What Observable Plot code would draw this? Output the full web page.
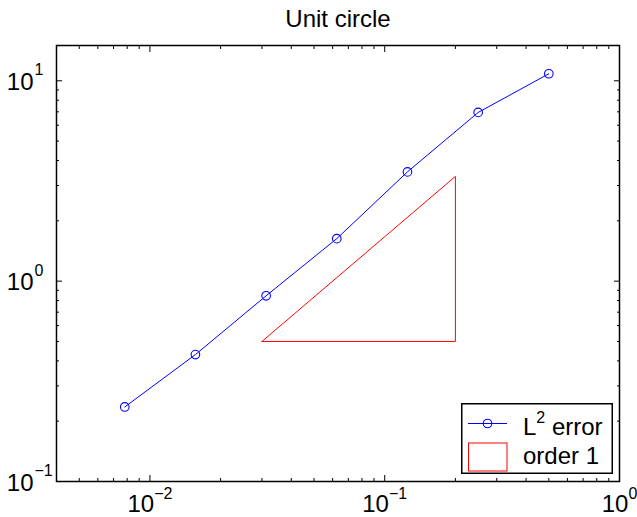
<!DOCTYPE html>
<html>
<head>
<meta charset="utf-8">
<script src="https://cdn.jsdelivr.net/npm/d3@7"></script>
<script src="https://cdn.jsdelivr.net/npm/@observablehq/plot@0.6"></script>
<style>
  html, body { margin: 0; padding: 0; background: #fff; }
  #wrap { position: relative; width: 637px; height: 517px; overflow: hidden; background: #fff; }
  #legend { position: absolute; left: 461px; top: 403px; }
</style>
</head>
<body>
<div id="wrap"></div>
<script>
// Mesh size h and the L2 error measured on the unit circle
const title = "Unit circle";
const h = [0.0078125, 0.015625, 0.03125, 0.0625, 0.125, 0.25, 0.5];
const l2Error = [0.2355, 0.430, 0.845, 1.63, 3.51, 6.95, 10.84];

// Reference slope triangle for first-order convergence
const triH = [0.03, 0.2, 0.2, 0.03];
const triErr = [0.5, 0.5, 3.333, 0.5];

// Axis ticks (decades) and their labels
const xTicks = [0.01, 0.1, 1];
const xTickLabels = ["10^\u22122", "10^\u22121", "10^0"];
const yTicks = [0.1, 1, 10];
const yTickBase = ["10", "10", "10"];
const yTickExp = ["\u22121", "0", "1"];
const xMinor = [0.004, 0.005, 0.006, 0.007, 0.008, 0.009,
                0.02, 0.03, 0.04, 0.05, 0.06, 0.07, 0.08, 0.09,
                0.2, 0.3, 0.4, 0.5, 0.6, 0.7, 0.8, 0.9];
const yMinor = [0.2, 0.3, 0.4, 0.5, 0.6, 0.7, 0.8, 0.9, 2, 3, 4, 5, 6, 7, 8, 9];

// Legend entries
const legendLabels = ["L^2 error", "order 1"];

const blue = "#0000ff";
const red = "#ff0000";
const font = "'Liberation Sans', Arial, Helvetica, sans-serif";

const data = h.map((d, i) => ({h: d, err: l2Error[i]}));
const tri = triH.map((d, i) => ({h: d, err: triErr[i]}));

// Inward-pointing ticks on all four sides of the box
const tickMarks = [];
for (const anchor of ["bottom", "top"]) {
  tickMarks.push(Plot.axisX(xTicks, {anchor, tickSize: -6, tickFormat: () => "", label: null, strokeWidth: 1}));
  tickMarks.push(Plot.axisX(xMinor, {anchor, tickSize: -3, tickFormat: () => "", label: null, strokeWidth: 1}));
}
for (const anchor of ["left", "right"]) {
  tickMarks.push(Plot.axisY(yTicks, {anchor, tickSize: -6, tickFormat: () => "", label: null, strokeWidth: 1}));
  tickMarks.push(Plot.axisY(yMinor, {anchor, tickSize: -3, tickFormat: () => "", label: null, strokeWidth: 1}));
}

const chart = Plot.plot({
  width: 637,
  height: 517,
  marginTop: 45,
  marginBottom: 36,
  marginLeft: 56,
  marginRight: 18,
  style: {fontFamily: font, fontSize: "24px", background: "white", color: "black"},
  x: {type: "log", domain: [0.004, 1]},
  y: {type: "log", domain: [0.1, 15]},
  marks: [
    ...tickMarks,
    Plot.frame({stroke: "black", strokeWidth: 1.5}),
    Plot.line(tri, {x: "h", y: "err", stroke: red, strokeWidth: 1}),
    Plot.line(data, {x: "h", y: "err", stroke: blue, strokeWidth: 1}),
    Plot.dot(data, {x: "h", y: "err", r: 4.3, stroke: blue, fill: "none", strokeWidth: 1.1}),
    // x tick labels (exponent split into a tspan below)
    Plot.text(xTicks, {x: xTicks, text: xTickLabels, frameAnchor: "bottom", lineAnchor: "bottom",
                       textAnchor: "middle", dy: 30, fontSize: 24, fill: "black"}),
    // y tick labels: base and raised exponent
    Plot.text(yTicks, {y: yTicks, text: yTickBase, frameAnchor: "left", lineAnchor: "bottom",
                       textAnchor: "end", dx: -23, dy: 9.3, fontSize: 24, fill: "black"}),
    Plot.text(yTicks, {y: yTicks, text: yTickExp, frameAnchor: "left", lineAnchor: "bottom",
                       textAnchor: "start", dx: -22, dy: -5.5, fontSize: 16, fill: "black"}),
    // title
    Plot.text([title], {frameAnchor: "top", lineAnchor: "bottom", dy: -19, fontSize: 24, fill: "black"})
  ]
});

// Render "10^e" labels with a superscript exponent
d3.select(chart).selectAll("text")
  .filter(function () { return this.textContent.includes("^"); })
  .each(function () {
    const [base, exp] = this.textContent.split("^");
    const t = d3.select(this);
    t.text(base);
    t.append("tspan").attr("dy", -12.5).attr("font-size", 16).text(exp);
  });

document.getElementById("wrap").appendChild(chart);

// Legend box in the lower right corner of the axes
const lg = d3.select("#wrap").append("svg")
  .attr("id", "legend")
  .attr("width", 153).attr("height", 72)
  .style("font-family", font).style("font-size", "24px");
lg.append("rect").attr("x", 0.75).attr("y", 0.75).attr("width", 150.5).attr("height", 69.5)
  .attr("fill", "white").attr("stroke", "black").attr("stroke-width", 1.5);
lg.append("line").attr("x1", 7).attr("x2", 46).attr("y1", 20.5).attr("y2", 20.5)
  .attr("stroke", blue).attr("stroke-width", 1);
lg.append("circle").attr("cx", 26.5).attr("cy", 20.5).attr("r", 4.3)
  .attr("fill", "none").attr("stroke", blue).attr("stroke-width", 1.1);
lg.append("rect").attr("x", 7.5).attr("y", 40).attr("width", 38.5).attr("height", 28)
  .attr("fill", "none").attr("stroke", red).attr("stroke-width", 1);
const [lBase, lRest] = legendLabels[0].split("^");
const t1 = lg.append("text").attr("x", 62).attr("y", 32).attr("fill", "black").text(lBase);
t1.append("tspan").attr("dy", -12).attr("font-size", 16).text(lRest.split(" ")[0]);
t1.append("tspan").attr("dy", 12).text(" " + lRest.split(" ").slice(1).join(" "));
lg.append("text").attr("x", 62).attr("y", 61).attr("fill", "black").text(legendLabels[1]);
</script>
</body>
</html>
